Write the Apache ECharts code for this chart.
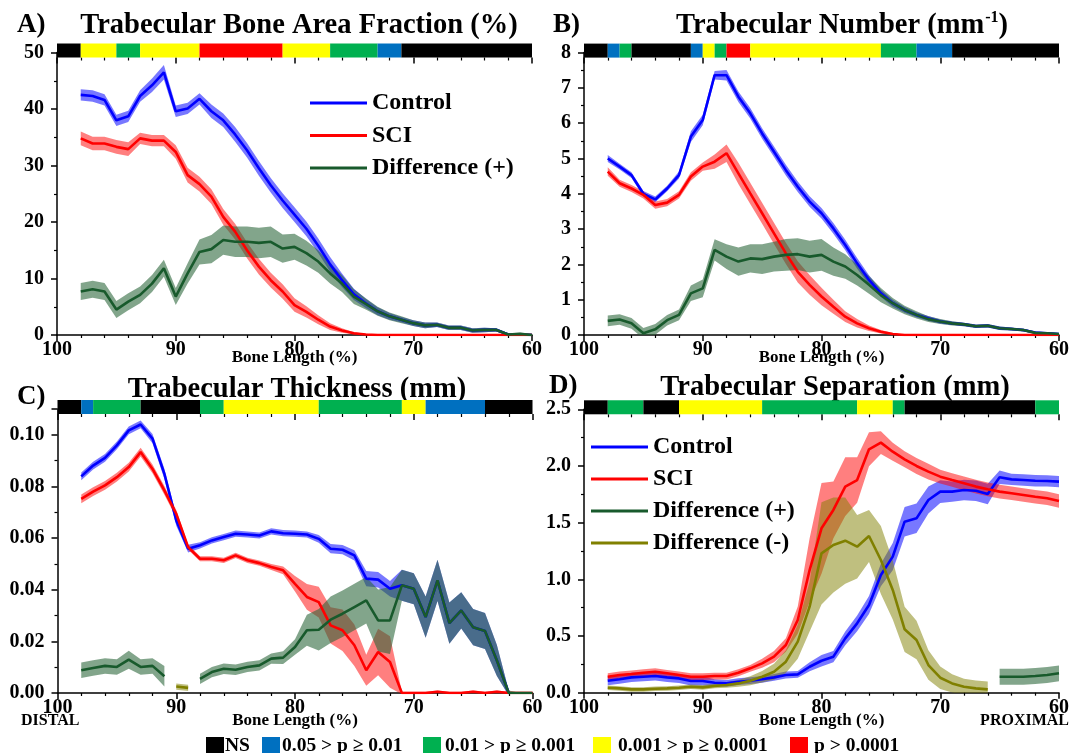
<!DOCTYPE html>
<html>
<head>
<meta charset="utf-8">
<script src="https://cdn.jsdelivr.net/npm/echarts@6/dist/echarts.min.js"></script>
<style>
html,body{margin:0;padding:0;background:#fff;}
#chart{width:1074px;height:753px;}
</style>
</head>
<body>
<div id="chart"></div>
<script>
// ---------- DATA ----------
const boneLength = [98,97,96,95,94,93,92,91,90,89,88,87,86,85,84,83,82,81,80,79,78,77,76,75,74,73,72,71,70,69,68,67,66,65,64,63,62,61,60];

// A) Trabecular Bone Area Fraction (%)
const ctlA = [42.5,42.3,41.6,38.0,38.7,42.3,44.2,46.5,39.6,40.1,41.8,39.6,38.0,35.5,32.7,29.5,26.5,23.8,21.3,18.8,15.8,12.5,9.7,7.2,5.6,4.2,3.3,2.7,2.1,1.7,1.8,1.3,1.3,0.8,0.9,0.9,0.1,0.1,0];
const ctlAerr = [1,1,1,1,1,1,1.2,1.3,1,1,1,1.2,1.2,1.3,1.3,1.3,1.3,1.3,1.3,1.3,1.3,1.3,1.2,1,0.8,0.7,0.6,0.5,0.5,0.5,0.4,0.4,0.4,0.4,0.4,0.3,0.2,0.2,0.2];
const sciA = [34.8,33.9,33.9,33.3,32.9,34.8,34.4,34.4,32.4,28.3,26.7,24.5,20.9,18.3,15.0,12.1,9.7,7.7,5.3,4.1,2.7,1.5,0.8,0.3,0.1,0,0,0,0,0,0,0,0,0,0,0,0,0,0];
const sciAerr = [1.2,1.2,1.2,1.2,1.2,1,1,1,1.2,1.3,1.3,1.3,1.4,1.4,1.4,1.4,1.3,1.3,1.2,1,0.8,0.6,0.4,0.2,0.1,0.05,0.05,0.05,0.05,0.05,0.05,0.05,0.05,0.05,0.05,0.05,0.05,0.05,0.05];
const difA = [7.7,8.1,7.7,4.5,5.9,7.1,9.1,11.8,6.8,10.9,14.7,15.2,16.8,16.5,16.5,16.3,16.5,15.3,15.6,14.5,13.0,10.9,9.1,6.8,5.5,4.2,3.3,2.7,2.1,1.7,1.8,1.3,1.3,0.8,0.9,0.9,0.1,0.2,0];
const difAerr = [1.5,1.5,1.5,1.5,1.5,1.5,1.5,1.5,1.5,1.8,2.2,2.5,2.6,2.7,2.7,2.7,2.7,2.5,2.3,2.2,2.0,1.8,1.5,1.3,1.0,0.8,0.7,0.6,0.5,0.5,0.4,0.4,0.4,0.4,0.4,0.3,0.2,0.2,0.2];

// B) Trabecular Number (mm-1)
const ctlB = [5.0,4.77,4.53,4.0,3.84,4.15,4.53,5.62,6.09,7.36,7.36,6.75,6.28,5.71,5.19,4.67,4.2,3.78,3.45,3.02,2.55,2.03,1.56,1.18,0.9,0.71,0.57,0.47,0.38,0.33,0.30,0.25,0.26,0.19,0.17,0.14,0.07,0.05,0.03];
const ctlBerr = [0.1,0.08,0.08,0.08,0.08,0.08,0.1,0.15,0.15,0.12,0.15,0.15,0.15,0.15,0.15,0.15,0.15,0.15,0.15,0.15,0.15,0.15,0.13,0.1,0.1,0.08,0.07,0.07,0.06,0.05,0.05,0.05,0.05,0.05,0.04,0.04,0.03,0.03,0.03];
const sciB = [4.63,4.3,4.15,3.97,3.68,3.75,3.97,4.49,4.77,4.91,5.15,4.58,4.01,3.45,2.88,2.31,1.79,1.42,1.09,0.8,0.52,0.33,0.19,0.09,0.03,0,0,0,0,0,0,0,0,0,0,0,0,0,0];
const sciBerr = [0.12,0.1,0.1,0.1,0.1,0.1,0.1,0.12,0.12,0.2,0.25,0.3,0.3,0.3,0.3,0.3,0.3,0.28,0.25,0.2,0.15,0.12,0.08,0.05,0.03,0.01,0.01,0.01,0.01,0.01,0.01,0.01,0.01,0.01,0.01,0.01,0.01,0.01,0.01];
const difB = [0.40,0.44,0.33,0.05,0.16,0.42,0.57,1.18,1.32,2.41,2.22,2.08,2.17,2.15,2.22,2.27,2.29,2.22,2.27,2.08,1.94,1.70,1.42,1.13,0.9,0.71,0.57,0.45,0.38,0.33,0.30,0.25,0.26,0.19,0.17,0.14,0.06,0.05,0.03];
const difBerr = [0.15,0.15,0.15,0.15,0.15,0.15,0.15,0.22,0.25,0.3,0.35,0.4,0.4,0.42,0.42,0.45,0.45,0.45,0.45,0.4,0.35,0.3,0.25,0.2,0.15,0.12,0.1,0.08,0.07,0.06,0.05,0.05,0.05,0.05,0.04,0.04,0.03,0.03,0.03];

// C) Trabecular Thickness (mm)
const ctlC = [0.0839,0.0881,0.0911,0.0959,0.1017,0.104,0.0985,0.0849,0.0668,0.0559,0.0572,0.0591,0.0604,0.0617,0.0614,0.061,0.0626,0.0619,0.0617,0.0614,0.0597,0.0559,0.0555,0.0533,0.0443,0.0439,0.0404,0.0417,0.0404,0.0294,0.0436,0.0271,0.032,0.0255,0.024,0.0126,0,null,null];
const ctlCerr = [0.0015,0.0015,0.0015,0.0015,0.0015,0.0015,0.0018,0.002,0.002,0.0015,0.0012,0.0012,0.0012,0.0012,0.0012,0.0012,0.0012,0.0012,0.0012,0.0012,0.0015,0.0018,0.0018,0.002,0.003,0.003,0.003,0.006,0.006,0.008,0.008,0.008,0.007,0.007,0.007,0.006,0.001,null,null];
const sciC = [0.0752,0.078,0.0804,0.0836,0.0875,0.0933,0.0868,0.0785,0.0694,0.0565,0.052,0.052,0.0514,0.0533,0.0514,0.0503,0.0488,0.0475,0.0423,0.0372,0.0352,0.0262,0.0243,0.0185,0.0088,0.0159,0.012,0,0,0,0.0005,0,0,0.0005,0,0.0005,0,0,0];
const sciCerr = [0.0017,0.0017,0.0017,0.0017,0.0017,0.0017,0.0017,0.0017,0.0015,0.001,0.001,0.001,0.001,0.001,0.001,0.001,0.0012,0.0015,0.003,0.005,0.006,0.007,0.008,0.008,0.006,0.009,0.01,0.0005,0.0005,0.0005,0.0005,0.0005,0.0005,0.0005,0.0005,0.0005,0.0005,0.0005,0.0005];
const difC = [0.0088,0.0097,0.0105,0.0101,0.0129,0.0101,0.0105,0.0065,null,null,0.0055,0.0081,0.0094,0.009,0.0101,0.0107,0.0133,0.0137,0.0178,0.0243,0.0245,0.0284,0.0307,0.0333,0.0359,0.0281,0.0281,0.0417,0.0404,0.0294,0.0436,0.0271,0.032,0.0255,0.024,0.0126,0,0,0];
const difCerr = [0.003,0.003,0.003,0.003,0.0035,0.003,0.003,0.004,null,null,0.002,0.002,0.002,0.002,0.002,0.002,0.002,0.0025,0.003,0.006,0.008,0.009,0.009,0.009,0.009,0.012,0.013,0.006,0.006,0.008,0.008,0.008,0.007,0.007,0.007,0.006,0.001,0,0];
const negC = [null,null,null,null,null,null,null,null,0.0025,0.002,null,null,null,null,null,null,null,null,null,null,null,null,null,null,null,null,null,null,null,null,null,null,null,null,null,null,null,null,null];
const negCerr = [null,null,null,null,null,null,null,null,0.0012,0.0012,null,null,null,null,null,null,null,null,null,null,null,null,null,null,null,null,null,null,null,null,null,null,null,null,null,null,null,null,null];

// D) Trabecular Separation (mm)
const ctlD = [0.106,0.118,0.135,0.141,0.147,0.135,0.126,0.103,0.103,0.088,0.082,0.097,0.106,0.118,0.135,0.156,0.162,0.229,0.282,0.318,0.479,0.612,0.774,1.038,1.2,1.509,1.538,1.7,1.774,1.774,1.788,1.782,1.753,1.9,1.882,1.876,1.87,1.868,1.862];
const ctlDerr = [0.04,0.04,0.04,0.04,0.04,0.04,0.04,0.04,0.04,0.03,0.03,0.03,0.03,0.03,0.03,0.03,0.03,0.04,0.05,0.05,0.06,0.07,0.08,0.1,0.12,0.13,0.13,0.12,0.1,0.09,0.09,0.09,0.09,0.06,0.05,0.05,0.05,0.05,0.05];
const sciD = [0.141,0.156,0.165,0.176,0.185,0.171,0.156,0.141,0.141,0.147,0.147,0.176,0.215,0.259,0.318,0.421,0.641,1.082,1.45,1.612,1.818,1.876,2.147,2.206,2.126,2.059,2.0,1.95,1.906,1.876,1.847,1.818,1.794,1.774,1.759,1.744,1.729,1.715,1.691];
const sciDerr = [0.03,0.03,0.03,0.03,0.03,0.03,0.03,0.03,0.03,0.03,0.03,0.03,0.03,0.04,0.05,0.06,0.12,0.28,0.4,0.25,0.26,0.2,0.15,0.1,0.08,0.07,0.07,0.07,0.06,0.06,0.06,0.06,0.06,0.06,0.06,0.06,0.06,0.06,0.06];
const difD = [null,null,null,null,null,null,null,null,null,null,null,null,null,null,null,null,null,null,null,null,null,null,null,null,null,null,null,null,null,null,null,null,null,0.141,0.141,0.141,0.147,0.156,0.171];
const difDerr = [null,null,null,null,null,null,null,null,null,null,null,null,null,null,null,null,null,null,null,null,null,null,null,null,null,null,null,null,null,null,null,null,null,0.07,0.07,0.07,0.07,0.07,0.07];
const negD = [0.044,0.038,0.029,0.029,0.035,0.038,0.044,0.053,0.047,0.059,0.068,0.082,0.106,0.141,0.185,0.274,0.45,0.759,1.229,1.303,1.341,1.288,1.382,1.171,0.906,0.559,0.465,0.244,0.132,0.082,0.053,0.038,0.029,null,null,null,null,null,null];
const negDerr = [0.02,0.02,0.02,0.02,0.02,0.02,0.02,0.02,0.02,0.02,0.025,0.03,0.04,0.05,0.07,0.1,0.15,0.22,0.45,0.42,0.38,0.28,0.23,0.3,0.26,0.2,0.17,0.13,0.1,0.08,0.07,0.07,0.07,null,null,null,null,null,null];

// Significance bars: [from %, to %, level]  level: 0 NS, 1 blue, 2 green, 3 yellow, 4 red
const sigA = [[100,98,0],[98,95,3],[95,93,2],[93,88,3],[88,81,4],[81,77,3],[77,73,2],[73,71,1],[71,60,0]];
const sigB = [[100,98,0],[98,97,1],[97,96,2],[96,91,0],[91,90,1],[90,89,3],[89,88,2],[88,86,4],[86,75,3],[75,72,2],[72,69,1],[69,60,0]];
const sigC = [[100,98,0],[98,97,1],[97,93,2],[93,88,0],[88,86,2],[86,78,3],[78,71,2],[71,69,3],[69,64,1],[64,60,0]];
const sigD = [[100,98,0],[98,95,2],[95,92,0],[92,85,3],[85,77,2],[77,74,3],[74,73,2],[73,62,0],[62,60,2]];

const sigLabels = ['NS','0.05 > p \u2265 0.01','0.01 > p \u2265 0.001','0.001 > p \u2265 0.0001','p > 0.0001'];
const panelTitles = ['Trabecular Bone Area Fraction (%)','Trabecular Number (mm','Trabecular Thickness (mm)','Trabecular Separation (mm)'];
const titleSup = ['', '-1', '', ''];
const titleTail = ['', ')', '', ''];
const panelLetters = ['A)','B)','C)','D)'];
const yMax = [50, 8, 0.11, 2.5];
const yInterval = [10, 1, 0.02, 0.5];
const yDecimals = [0, 0, 2, 1];

// ---------- STYLE ----------
const FONT = "'Liberation Serif','Times New Roman',serif";
const sigColors = ['#000000','#0070C0','#00B050','#FFFF00','#FF0000'];
const C_CTL = '#0000FF', C_SCI = '#FF0000', C_DIF = '#185a2c', C_NEG = '#808000';
const B_CTL = 'rgba(0,0,255,0.53)', B_SCI = 'rgba(255,0,0,0.5)', B_DIF = 'rgba(40,100,55,0.58)', B_NEG = 'rgba(128,128,0,0.5)';

const grids = [
  {left:57, top:52.5, width:475, height:282.5},
  {left:584, top:52.6, width:475, height:282.4},
  {left:57.5, top:409, width:475, height:284},
  {left:584, top:409.3, width:475, height:283.4}
];

// ---------- BUILD ----------
const option = {animation:false, backgroundColor:'#fff', grid:[], xAxis:[], yAxis:[], series:[], legend:[], graphic:[]};

grids.forEach((g)=>{
  option.grid.push({left:g.left, top:g.top, width:g.width, height:g.height, containLabel:false});
});
grids.forEach((g)=>{
  option.grid.push({left:g.left, top:g.top-9, width:g.width, height:14, containLabel:false});
});

const axisLineStyle = {color:'#000', width:1.5};
for (let i=0;i<4;i++){
  const bottomRow = i>=2;
  option.xAxis.push({
    gridIndex:i, type:'value', min:60, max:100, interval:10, inverse:true,
    axisLine:{show:true, lineStyle:axisLineStyle},
    axisTick:{show:true, length:6, lineStyle:{color:'#000', width:1.5}},
    minorTick:{show:true, splitNumber:5, length:3, lineStyle:{color:'#000', width:1.2}},
    splitLine:{show:false}, minorSplitLine:{show:false},
    axisLabel:{color:'#000', fontSize:20, fontWeight:'bold', fontFamily:FONT, margin:5},
    name:'Bone Length (%)', nameLocation:'middle', nameGap: bottomRow ? 19 : 14, nameMoveOverlap:false,
    nameTextStyle:{color:'#000', fontSize:17, fontWeight:'bold', fontFamily:FONT}
  });
  option.yAxis.push({
    gridIndex:i, type:'value', min:0, max:yMax[i], interval:yInterval[i],
    axisLine:{show:true, lineStyle:axisLineStyle},
    axisTick:{show:true, length:6, lineStyle:{color:'#000', width:1.5}},
    minorTick:{show:true, splitNumber:2, length:3, lineStyle:{color:'#000', width:1.2}},
    splitLine:{show:false}, minorSplitLine:{show:false},
    axisLabel:{color:'#000', fontSize:20, fontWeight:'bold', fontFamily:FONT, margin:13,
      formatter:(v)=>{ const k=v/yInterval[i]; return Math.abs(k-Math.round(k))<1e-6 ? v.toFixed(yDecimals[i]) : ''; }}
  });
}
for (let i=0;i<4;i++){
  option.xAxis.push({
    gridIndex:4+i, type:'value', min:60, max:100, interval:10, inverse:true, position:'bottom',
    axisLine:{show:false},
    axisTick:{show:true, length:6, lineStyle:{color:'#000', width:1.5}},
    minorTick:{show:true, splitNumber:5, length:3, lineStyle:{color:'#000', width:1.2}},
    axisLabel:{show:false}, splitLine:{show:false}
  });
  option.yAxis.push({gridIndex:4+i, type:'value', min:0, max:1, show:false});
}

function bandSeries(ax, mean, err, color){
  const data = boneLength.map((x,k)=> (mean[k]==null||err[k]==null) ? [x,null,null] : [x, mean[k]-err[k], mean[k]+err[k]]);
  return {
    type:'custom', xAxisIndex:ax, yAxisIndex:ax, silent:true, clip:true, z:2,
    data: data, encode:{x:0, y:[1,2]},
    renderItem:(params, api)=>{
      const k = params.dataIndex;
      if (data[k][1]==null) return;
      if (k>0 && data[k-1][1]!=null) return;
      const up=[], lo=[];
      let j=k;
      while (j<data.length && data[j][1]!=null){
        up.push(api.coord([data[j][0], data[j][2]]));
        lo.push(api.coord([data[j][0], data[j][1]]));
        j++;
      }
      const pts = up.concat(lo.reverse());
      return {type:'polygon', shape:{points:pts}, style:{fill:color, stroke:null}};
    }
  };
}
function lineSeries(ax, name, mean, color){
  return {
    type:'line', name:name, xAxisIndex:ax, yAxisIndex:ax, z:5,
    data: boneLength.map((x,k)=>[x, mean[k]]),
    showSymbol:false, symbol:'none', connectNulls:false, clip:true,
    lineStyle:{color:color, width:2.6}, itemStyle:{color:color}, color:color
  };
}
function sigSeries(ax, sig){
  return {
    type:'custom', xAxisIndex:ax, yAxisIndex:ax, silent:true, z:3,
    data: sig, encode:{x:[0,1]},
    renderItem:(params, api)=>{
      const p0 = api.coord([api.value(0), 1]);
      const p1 = api.coord([api.value(1), 0]);
      return {type:'rect', shape:{x:Math.min(p0[0],p1[0]), y:p0[1], width:Math.abs(p1[0]-p0[0]), height:p1[1]-p0[1]},
        style:{fill: sigColors[api.value(2)]}};
    }
  };
}

const panels = [
  {ctl:[ctlA,ctlAerr], sci:[sciA,sciAerr], dif:[difA,difAerr], neg:null, sig:sigA},
  {ctl:[ctlB,ctlBerr], sci:[sciB,sciBerr], dif:[difB,difBerr], neg:null, sig:sigB},
  {ctl:[ctlC,ctlCerr], sci:[sciC,sciCerr], dif:[difC,difCerr], neg:[negC,negCerr], sig:sigC},
  {ctl:[ctlD,ctlDerr], sci:[sciD,sciDerr], dif:[difD,difDerr], neg:[negD,negDerr], sig:sigD}
];
panels.forEach((p,i)=>{
  option.series.push(bandSeries(i, p.ctl[0], p.ctl[1], B_CTL));
  option.series.push(bandSeries(i, p.sci[0], p.sci[1], B_SCI));
  option.series.push(bandSeries(i, p.dif[0], p.dif[1], B_DIF));
  if (p.neg) option.series.push(bandSeries(i, p.neg[0], p.neg[1], B_NEG));
  option.series.push(lineSeries(i, 'Control', p.ctl[0], C_CTL));
  option.series.push(lineSeries(i, 'SCI', p.sci[0], C_SCI));
  option.series.push(lineSeries(i, 'Difference (+)', p.dif[0], C_DIF));
  if (p.neg) option.series.push(lineSeries(i, 'Difference (-)', p.neg[0], C_NEG));
  option.series.push(sigSeries(4+i, p.sig));
});

const legendText = {color:'#000', fontSize:24, fontWeight:'bold', fontFamily:FONT, lineHeight:24};
option.legend.push({data:['Control','SCI','Difference (+)'], orient:'vertical', left:310, top:91,
  icon:'rect', itemWidth:57, itemHeight:3, itemGap:8.5, selectedMode:false, textStyle:legendText, padding:0});
option.legend.push({data:['Control','SCI','Difference (+)','Difference (-)'], orient:'vertical', left:591, top:435,
  icon:'rect', itemWidth:57, itemHeight:3, itemGap:8, selectedMode:false, textStyle:legendText, padding:0});

// titles
const titlePos = [[299,24],[842,24],[297,388],[835,386]];
const letterPos = [[17,25],[553,25],[17,397],[549,386]];
const TS = 28.5;
for (let i=0;i<4;i++){
  let txt = '{t|' + panelTitles[i] + '}';
  if (titleSup[i]) txt += '{s|' + titleSup[i] + '}{t|' + titleTail[i] + '}';
  option.graphic.push({type:'text', x:titlePos[i][0], y:titlePos[i][1], style:{
    text: txt, align:'center', verticalAlign:'middle', fill:'#000',
    rich:{t:{fontSize:TS, fontWeight:'bold', fontFamily:FONT, lineHeight:32, verticalAlign:'bottom', fill:'#000'},
          s:{fontSize:16, fontWeight:'bold', fontFamily:FONT, lineHeight:32, verticalAlign:'top', fill:'#000', padding:[2,0,0,1]}}
  }});
  option.graphic.push({type:'text', x:letterPos[i][0], y:letterPos[i][1], style:{text:panelLetters[i], align:'left', verticalAlign:'middle',
    fontSize:27, fontWeight:'bold', fontFamily:FONT, fill:'#000'}});
}
option.graphic.push({type:'text', x:21, y:721, style:{text:'DISTAL', fontSize:16, fontWeight:'bold', fontFamily:FONT, fill:'#000', align:'left', verticalAlign:'middle'}});
option.graphic.push({type:'text', x:1069, y:721, style:{text:'PROXIMAL', fontSize:16, fontWeight:'bold', fontFamily:FONT, fill:'#000', align:'right', verticalAlign:'middle'}});

// bottom significance legend
const sqX = [206, 262, 423, 593, 790];
const txX = [225, 282, 445, 618, 814];
for (let k=0;k<5;k++){
  option.graphic.push({type:'rect', shape:{x:sqX[k], y:737, width:18, height:18}, style:{fill:sigColors[k]}});
  option.graphic.push({type:'text', x:txX[k], y:746, style:{text:sigLabels[k], fontSize:19.5, fontWeight:'bold', fontFamily:FONT, fill:'#000', align:'left', verticalAlign:'middle'}});
}

const chart = echarts.init(document.getElementById('chart'), null, {renderer:'canvas'});
chart.setOption(option);
</script>
</body>
</html>
